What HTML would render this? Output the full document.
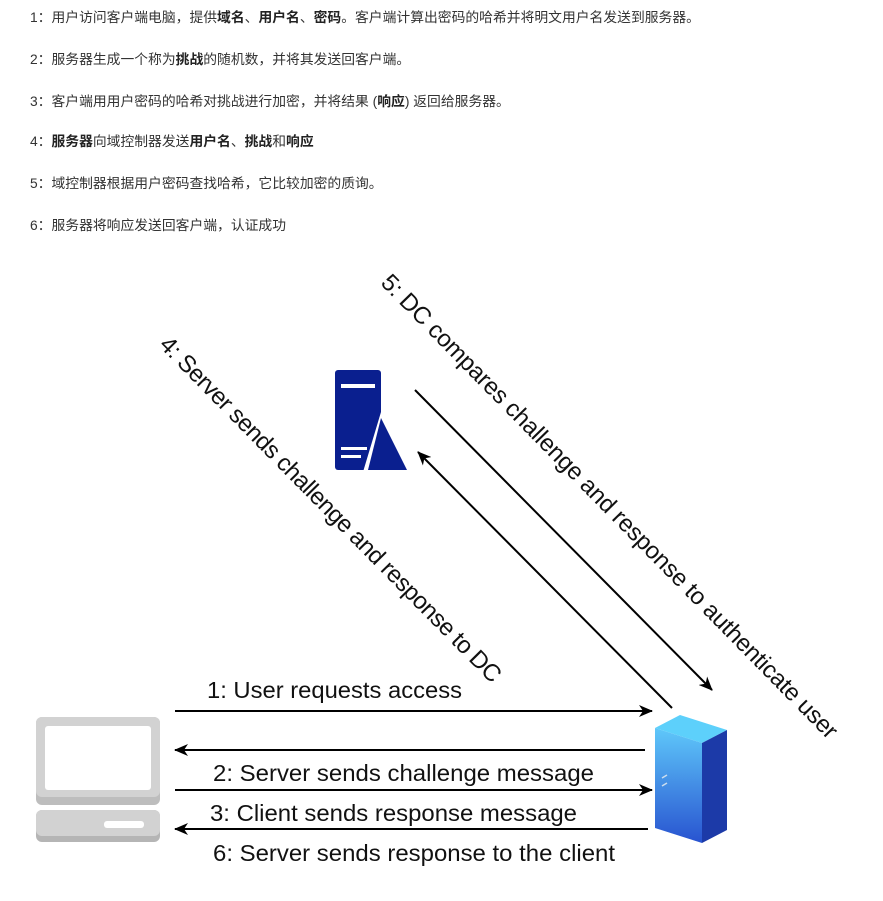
<!DOCTYPE html>
<html><head><meta charset="utf-8"><style>
body{margin:0;background:#fff;width:883px;height:901px;overflow:hidden;position:relative;font-family:"Liberation Sans","Noto Sans CJK SC",sans-serif;}
.t{position:absolute;left:30px;font-size:13.8px;color:#333;line-height:16px;white-space:nowrap}
b{font-weight:bold;color:#222}
</style></head><body>
<div class="t" style="top:10px">1：用户访问客户端电脑，提供<b>域名</b>、<b>用户名</b>、<b>密码</b>。客户端计算出密码的哈希并将明文用户名发送到服务器。</div>
<div class="t" style="top:52px">2：服务器生成一个称为<b>挑战</b>的随机数，并将其发送回客户端。</div>
<div class="t" style="top:94px">3：客户端用用户密码的哈希对挑战进行加密，并将结果 (<b>响应</b>) 返回给服务器。</div>
<div class="t" style="top:134px">4：<b>服务器</b>向域控制器发送<b>用户名</b>、<b>挑战</b>和<b>响应</b></div>
<div class="t" style="top:176px">5：域控制器根据用户密码查找哈希，它比较加密的质询。</div>
<div class="t" style="top:218px">6：服务器将响应发送回客户端，认证成功</div>
<svg width="883" height="901" style="position:absolute;left:0;top:0">
<defs><marker id="a" markerWidth="14" markerHeight="12" refX="13" refY="6" orient="auto" markerUnits="userSpaceOnUse"><path d="M0,0 L14,6 L0,12 L4,6z" fill="#000"/></marker>
<linearGradient id="g2" x1="0" y1="0" x2="0" y2="1"><stop offset="0" stop-color="#5fc8fa"/><stop offset="1" stop-color="#2853d0"/></linearGradient></defs>
<g font-family="Liberation Sans, sans-serif" fill="#111">
<text x="325" y="515" font-size="24" text-anchor="middle" transform="rotate(45.4 325 515)" textLength="475">4: Server sends challenge and response to DC</text>
<text x="604" y="512" font-size="24" text-anchor="middle" transform="rotate(45.5 604 512)" textLength="640">5: DC compares challenge and response to authenticate user</text>
<text x="207" y="698" font-size="23.5" textLength="255" lengthAdjust="spacingAndGlyphs">1: User requests access</text>
<text x="213" y="781" font-size="23.5" textLength="381" lengthAdjust="spacingAndGlyphs">2: Server sends challenge message</text>
<text x="210" y="821" font-size="23.5" textLength="367" lengthAdjust="spacingAndGlyphs">3: Client sends response message</text>
<text x="213" y="861" font-size="23.5" textLength="402" lengthAdjust="spacingAndGlyphs">6: Server sends response to the client</text>
</g>
<g stroke="#000" stroke-width="2" marker-end="url(#a)">
<line x1="175" y1="711" x2="652" y2="711"/>
<line x1="645" y1="750" x2="175" y2="750"/>
<line x1="175" y1="790" x2="652" y2="790"/>
<line x1="648" y1="829" x2="175" y2="829"/>
<line x1="672" y1="708" x2="418" y2="452"/>
<line x1="415" y1="390" x2="712" y2="690"/>
</g>
<rect x="335" y="370" width="46" height="100" rx="3" fill="#0a1f8f"/>
<rect x="341" y="384" width="34" height="4" fill="#fff"/>
<rect x="341" y="447" width="26" height="3" fill="#fff"/>
<rect x="341" y="455" width="20" height="3" fill="#fff"/>
<path d="M381,412 L363,472 L409,472z" fill="#fff"/>
<path d="M381,418 L368,470 L407,470z" fill="#0a1f8f"/>
<rect x="36" y="717" width="124" height="88" rx="6" fill="#bdbdbd"/>
<rect x="36" y="717" width="124" height="80" rx="6" fill="#d2d2d2"/>
<rect x="45" y="726" width="106" height="64" rx="3" fill="#fff"/>
<rect x="36" y="810" width="124" height="32" rx="6" fill="#b5b5b5"/>
<rect x="36" y="810" width="124" height="26" rx="6" fill="#d2d2d2"/>
<rect x="104" y="821" width="40" height="7" rx="3" fill="#fff"/>
<path d="M655,728 L680,715 L727,730 L702,743z" fill="#5dd0fb"/>
<path d="M655,728 L702,743 L702,843 L655,828z" fill="url(#g2)"/>
<path d="M702,743 L727,730 L727,830 L702,843z" fill="#1c3aa8"/>
<line x1="662" y1="778" x2="667" y2="775" stroke="#cde" stroke-width="1.5"/>
<line x1="662" y1="786" x2="667" y2="783" stroke="#cde" stroke-width="1.5"/>
</svg>
</body></html>
